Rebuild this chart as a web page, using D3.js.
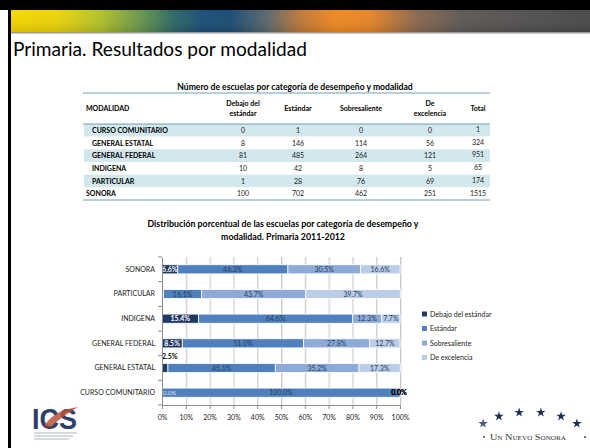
<!DOCTYPE html>
<html>
<head>
<meta charset="utf-8">
<script src="https://cdn.jsdelivr.net/npm/d3@7"></script>
<style>
  html, body { margin: 0; padding: 0; background: #fff; }
  svg { display: block; font-family: Lato, 'Open Sans', sans-serif; }
</style>
</head>
<body>
<div id="slide"></div>
<script>
// table data
var table_columns = ['Debajo del|estándar', 'Estándar', 'Sobresaliente', 'De|excelencia', 'Total'];
var table_rows = ['CURSO COMUNITARIO', 'GENERAL ESTATAL', 'GENERAL FEDERAL', 'INDIGENA', 'PARTICULAR', 'SONORA'];
var table_debajo = [0, 8, 81, 10, 1, 100];
var table_estandar = [1, 146, 485, 42, 28, 702];
var table_sobresaliente = [0, 114, 264, 8, 76, 462];
var table_excelencia = [0, 56, 121, 5, 69, 251];
var table_total = [1, 324, 951, 65, 174, 1515];

// chart data (percent)
var categories = ['SONORA', 'PARTICULAR', 'INDIGENA', 'GENERAL FEDERAL', 'GENERAL ESTATAL', 'CURSO COMUNITARIO'];
var series_names = ['Debajo del estándar', 'Estándar', 'Sobresaliente', 'De excelencia'];
var debajo_values = [6.6, 0.6, 15.4, 8.5, 2.5, 0.0];
var estandar_values = [46.3, 16.1, 64.6, 51.0, 45.1, 100.0];
var sobresaliente_values = [30.5, 43.7, 12.3, 27.8, 35.2, 0.0];
var excelencia_values = [16.6, 39.7, 7.7, 12.7, 17.3, 0.0];
var x_ticks = [0, 10, 20, 30, 40, 50, 60, 70, 80, 90, 100];

var series_colors = ['#1f3864', '#4f7fbd', '#8eaad8', '#bccde8'];
var label_colors = ['#ffffff', '#243f60', '#243f60', '#243f60'];

var W = 590, H = 448;
var svg = d3.select('#slide').append('svg').attr('width', W).attr('height', H);
var defs = svg.append('defs');

drawFrame();
drawTable();
drawChart();
drawLogos();

function drawFrame() {
    var band = defs.append('linearGradient').attr('id', 'band').attr('x1', 0).attr('x2', 1).attr('y1', 0).attr('y2', 0);
    [[0, '#f7d800'], [0.08, '#ecd40a'], [0.15, '#b8c428'], [0.22, '#6e9a4c'], [0.28, '#2f6a68'],
     [0.33, '#1c5078'], [0.38, '#1d4d74'], [0.44, '#5a6870'], [0.5, '#c07a38'], [0.56, '#f08a22'],
     [0.62, '#e88628'], [0.7, '#8c6a50'], [0.78, '#5e5a58'], [1, '#4a4a4a']].forEach(function(s) {
        band.append('stop').attr('offset', s[0]).attr('stop-color', s[1]);
    });
    var shade = defs.append('linearGradient').attr('id', 'shade').attr('x1', 0).attr('x2', 0).attr('y1', 0).attr('y2', 1);
    shade.append('stop').attr('offset', 0).attr('stop-color', '#fff').attr('stop-opacity', 0.0);
    shade.append('stop').attr('offset', 1).attr('stop-color', '#000').attr('stop-opacity', 0.12);

    svg.append('rect').attr('x', 0).attr('y', 0).attr('width', W).attr('height', 10).attr('fill', '#000');
    svg.append('rect').attr('x', 8).attr('y', 0).attr('width', 3).attr('height', H).attr('fill', '#000');
    svg.append('rect').attr('x', 11).attr('y', 10).attr('width', W - 11).attr('height', 22).attr('fill', 'url(#band)');
    svg.append('rect').attr('x', 11).attr('y', 10).attr('width', W - 11).attr('height', 22).attr('fill', 'url(#shade)');
    svg.append('rect').attr('x', 11).attr('y', 32).attr('width', W - 11).attr('height', 1.5).attr('fill', '#9a9a9a');

    svg.append('text').attr('x', 13).attr('y', 56).attr('font-size', 19.5).attr('fill', '#000')
        .attr('textLength', 294).attr('lengthAdjust', 'spacingAndGlyphs')
        .text('Primaria. Resultados por modalidad');
}

function drawTable() {
    var g = svg.append('g');
    var rowY = d3.scaleBand().domain(table_rows).range([124, 200]);
    // column centres are not evenly spaced in the original
    var colPos = { 'Debajo del|estándar': 243, 'Estándar': 298, 'Sobresaliente': 361, 'De|excelencia': 430, 'Total': 478 };

    g.append('text').attr('x', 295).attr('y', 90).attr('text-anchor', 'middle').attr('font-size', 8.6)
        .attr('font-weight', 'bold').attr('fill', '#000')
        .text('Número de escuelas por categoría de desempeño y modalidad');

    g.selectAll('rect.row').data(table_rows).enter().append('rect')
        .attr('x', 84).attr('y', function(d) { return rowY(d); })
        .attr('width', 406).attr('height', rowY.bandwidth())
        .attr('fill', function(d, i) { return (i % 2 == 0 && d != 'SONORA') ? '#d3e7ef' : '#fff'; });

    [93, 124, 200].forEach(function(y) {
        g.append('line').attr('x1', 83).attr('x2', 490).attr('y1', y).attr('y2', y)
            .attr('stroke', '#6f9fb6').attr('stroke-width', 1);
    });

    g.append('text').attr('x', 86).attr('y', 111).attr('font-size', 7).attr('font-weight', 'bold').text('MODALIDAD');
    table_columns.forEach(function(c) {
        var lines = c.split('|');
        var t = g.append('text').attr('x', colPos[c]).attr('text-anchor', 'middle')
            .attr('font-size', 7).attr('font-weight', 'bold').attr('fill', '#000');
        lines.forEach(function(l, i) {
            t.append('tspan').attr('x', colPos[c])
                .attr('y', lines.length == 1 ? 111 : 106 + i * 9.5).text(l);
        });
    });

    var values = [table_debajo, table_estandar, table_sobresaliente, table_excelencia, table_total];
    table_rows.forEach(function(r, i) {
        var y = rowY(r) + rowY.bandwidth() / 2 + 2.6;
        g.append('text').attr('x', r == 'SONORA' ? 86 : 92).attr('y', y).attr('font-size', 7)
            .attr('font-weight', 'bold').attr('fill', '#000').text(r);
        values.forEach(function(v, j) {
            g.append('text').attr('x', colPos[table_columns[j]]).attr('y', y - (j == 4 && r != 'SONORA' ? 1 : 0))
                .attr('text-anchor', 'middle').attr('font-size', 7).attr('fill', '#222').text(v[i]);
        });
    });
}

function drawChart() {
    var g = svg.append('g');
    var x = d3.scaleLinear().domain([0, 100]).range([162, 400]);
    var y = d3.scaleBand().domain(categories).range([257, 405]).paddingInner(0.63).paddingOuter(0.315);

    var title = g.append('text').attr('text-anchor', 'middle').attr('font-size', 8.8)
        .attr('font-weight', 'bold').attr('fill', '#000');
    title.append('tspan').attr('x', 283).attr('y', 227).text('Distribución porcentual de las escuelas por categoría de desempeño y');
    title.append('tspan').attr('x', 283).attr('y', 240).text('modalidad. Primaria 2011-2012');

    // gridlines
    g.selectAll('line.grid').data(x_ticks.slice(1)).enter().append('line')
        .attr('x1', function(d) { return x(d) + 0.5; }).attr('x2', function(d) { return x(d) + 0.5; })
        .attr('y1', 257).attr('y2', 405).attr('stroke', '#c8c8c8').attr('stroke-width', 1);
    g.selectAll('line.grid2').data(x_ticks.slice(1)).enter().append('line')
        .attr('x1', function(d) { return x(d) + 1.5; }).attr('x2', function(d) { return x(d) + 1.5; })
        .attr('y1', 257).attr('y2', 405).attr('stroke', '#ececec').attr('stroke-width', 1);

    var stackData = categories.map(function(c, i) {
        return { cat: c, s0: debajo_values[i], s1: estandar_values[i], s2: sobresaliente_values[i], s3: excelencia_values[i] };
    });
    var stack = d3.stack().keys(['s0', 's1', 's2', 's3']);
    var layers = stack(stackData);

    var layer = g.selectAll('g.layer').data(layers).enter().append('g')
        .attr('fill', function(d, i) { return series_colors[i]; });
    layer.selectAll('rect').data(function(d) { return d; }).enter().append('rect')
        .attr('x', function(d) { return x(d[0]); })
        .attr('y', function(d) { return y(d.data.cat); })
        .attr('width', function(d) { return x(d[1]) - x(d[0]); })
        .attr('height', y.bandwidth())
        .attr('stroke', '#fff').attr('stroke-width', 0.8);

    // labels
    layers.forEach(function(l, k) {
        l.forEach(function(d) {
            var v = d[1] - d[0];
            if (v > 0 && v < 1) { return; }
            var cy = y(d.data.cat) + y.bandwidth() / 2 + 2.5;
            var t = g.append('text').attr('font-size', 7).text(v.toFixed(1) + '%');
            if (v >= 1 && v < 5) {
                t.attr('x', x(d[0])).attr('y', y(d.data.cat) - 4).attr('font-weight', 'bold').attr('fill', '#000');
            } else if (v == 0 && k > 0) {
                t.attr('x', x(d[0]) - 1).attr('y', cy)
                    .attr('text-anchor', 'middle').attr('font-weight', 'bold').attr('fill', '#000');
            } else if (v == 0) {
                t.attr('x', x(d[0]) + 1).attr('y', cy).attr('font-size', 6).attr('fill', '#dfe8f5');
            } else {
                t.attr('x', (x(d[0]) + x(d[1])) / 2).attr('y', cy)
                    .attr('text-anchor', 'middle').attr('fill', label_colors[k])
                    .attr('font-weight', k == 0 ? 'bold' : 'normal');
            }
        });
    });

    // axes
    var xAxis = d3.axisBottom(x).tickValues(x_ticks).tickSize(4).tickFormat(function(d) { return d + '%'; });
    var ax = g.append('g').attr('transform', 'translate(0,405)').call(xAxis);
    ax.select('.domain').attr('stroke', '#8c8c8c');
    ax.selectAll('.tick line').attr('stroke', '#8c8c8c');
    ax.selectAll('.tick text').attr('font-size', 7).attr('fill', '#222').attr('font-family', 'Lato, sans-serif').attr('dy', '1.1em');

    var yAxis = d3.axisLeft(y).tickSize(0).tickPadding(7);
    var ay = g.append('g').attr('transform', 'translate(162,0)').call(yAxis);
    ay.select('.domain').attr('stroke', '#8c8c8c');
    ay.selectAll('.tick text').attr('font-size', 7).attr('fill', '#222').attr('font-family', 'Lato, sans-serif');
    // category separator ticks
    g.selectAll('line.ctick').data(d3.range(categories.length + 1)).enter().append('line')
        .attr('x1', 158).attr('x2', 162)
        .attr('y1', function(d) { return 257 + d * y.step(); })
        .attr('y2', function(d) { return 257 + d * y.step(); })
        .attr('stroke', '#8c8c8c');

    // legend
    var lg = g.selectAll('g.legend').data(series_names).enter().append('g')
        .attr('transform', function(d, i) { return 'translate(422,' + (314 + i * 14.5) + ')'; });
    lg.append('rect').attr('x', 0).attr('y', -2.5).attr('width', 5).attr('height', 5)
        .attr('fill', function(d, i) { return series_colors[i]; });
    lg.append('text').attr('x', 8).attr('y', 2.5).attr('font-size', 7).attr('fill', '#222').text(function(d) { return d; });
}

function drawLogos() {
    // ICS logo
    var ics = svg.append('g').attr('transform', 'translate(32,405)');
    ics.append('text').attr('x', 0).attr('y', 24).attr('font-size', 29).attr('font-weight', 'bold')
        .attr('fill', '#2c3e6b').attr('font-family', 'Liberation Sans, sans-serif')
        .attr('textLength', 45).attr('lengthAdjust', 'spacingAndGlyphs').text('ICS');
    ics.append('path').attr('d', 'M12,21 C20,9 31,4 46,2 C35,9 27,14 19,22 Z').attr('fill', '#b9533a').attr('opacity', 0.85);
    [28, 31, 34].forEach(function(yy, i) {
        ics.append('line').attr('x1', 2).attr('x2', 45 - i * 4).attr('y1', yy).attr('y2', yy)
            .attr('stroke', '#a4a9b2').attr('stroke-width', 0.9);
    });

    // Un Nuevo Sonora logo
    var ns = svg.append('g').attr('transform', 'translate(530,440)');
    var star = d3.symbol().type(d3.symbolStar).size(28);
    var starCount = 6;
    d3.range(starCount).forEach(function(i) {
        var a = Math.PI * (0.8 - i * 0.6 / (starCount - 1));
        var sx = 58 * Math.cos(a), sy = -Math.sin(a) * 28;
        ns.append('path').attr('d', star()).attr('transform', 'translate(' + sx + ',' + sy + ')')
            .attr('fill', '#1c2f55').attr('opacity', i == 0 ? 0.8 : 1);
    });
    ns.append('text').attr('x', -2).attr('y', 0).attr('text-anchor', 'middle').attr('font-size', 8.5)
        .attr('font-family', 'Liberation Serif, serif').attr('fill', '#333')
        .attr('textLength', 76).attr('lengthAdjust', 'spacingAndGlyphs')
        .style('font-variant', 'small-caps').text('Un Nuevo Sonora');
    ns.append('circle').attr('cx', -46).attr('cy', -3).attr('r', 0.9).attr('fill', '#333');
    ns.append('circle').attr('cx', 55).attr('cy', -3).attr('r', 0.9).attr('fill', '#333');
}
</script>
</body>
</html>
